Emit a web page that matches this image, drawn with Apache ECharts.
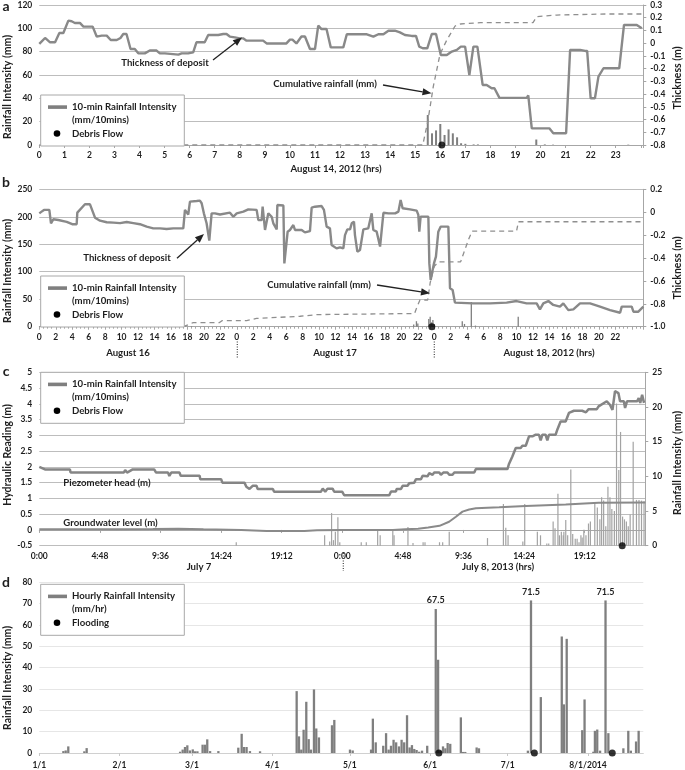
<!DOCTYPE html>
<html><head><meta charset="utf-8">
<script src="https://cdn.jsdelivr.net/npm/echarts@6/dist/echarts.min.js"></script>
<style>html,body{margin:0;padding:0;background:#fff}#c{width:685px;height:770px}</style>
</head><body><div id="c"></div>
<script>
// ---------- DATA ----------
// Panel a (August 14, 2012; hours)
const aThickness = [[0,-0.006],[0.23,0.041],[0.43,0.007],[0.63,0.007],[0.8,0.08],[0.96,0.08],[1.16,0.177],[1.29,0.172],[1.42,0.159],[1.62,0.159],[1.76,0.13],[2.13,0.13],[2.29,0.052],[2.49,0.059],[2.69,0.059],[2.85,0.025],[3.09,0.025],[3.24,0.041],[3.35,0.072],[3.48,0.072],[3.64,-0.046],[3.81,-0.046],[3.95,-0.08],[4.21,-0.08],[4.41,-0.058],[4.68,-0.058],[4.81,-0.08],[5.01,-0.08],[5.08,-0.09],[5.55,-0.09],[5.68,-0.08],[5.94,-0.08],[6.0,-0.072],[6.14,-0.072],[6.27,0.007],[6.6,0.007],[6.74,0.064],[7.14,0.064],[7.34,0.072],[7.47,0.072],[7.6,0.052],[7.8,0.046],[8.0,0.038],[8.13,0.038],[8.27,0.02],[8.93,0.02],[9.07,-0.002],[9.86,-0.002],[10.0,0.028],[10.1,0.028],[10.26,-0.002],[10.46,0.053],[10.6,0.053],[10.8,-0.046],[11.0,-0.046],[11.13,0.138],[11.26,0.111],[11.46,0.111],[11.63,-0.033],[12.13,-0.033],[12.27,0.07],[13.07,0.07],[13.33,0.051],[13.53,0.07],[13.73,0.07],[13.93,0.098],[14.19,0.098],[14.39,0.085],[14.59,0.064],[14.86,0.057],[15.03,0.057],[15.16,-0.027],[15.3,-0.04],[15.48,-0.04],[15.66,0.072],[15.83,0.072],[16.02,-0.093],[16.26,-0.093],[16.46,-0.066],[16.66,-0.053],[16.82,-0.027],[16.99,-0.027],[17.16,-0.25],[17.32,-0.027],[17.48,-0.027],[17.69,-0.328],[17.85,-0.328],[18.05,-0.354],[18.16,-0.354],[18.36,-0.43],[19.45,-0.43],[19.51,-0.41],[19.65,-0.669],[20.35,-0.669],[20.51,-0.708],[21.02,-0.708],[21.18,-0.053],[21.58,-0.053],[21.78,-0.061],[21.86,-0.061],[22.0,-0.433],[22.17,-0.433],[22.31,-0.263],[22.51,-0.197],[23.14,-0.197],[23.33,0.143],[23.84,0.143],[24.04,0.117]];
const aCumulative = [[0,0],[15.3,0],[15.5,20],[15.72,50],[15.99,78],[16.26,90],[16.59,102],[16.8,103.7],[17.6,104.9],[19.7,104.9],[19.85,110],[20.65,111.4],[22.6,112.3],[24.04,112.3]];
const aRain = [[15.5,25.7],[15.67,10],[15.83,12.5],[16.0,18],[16.17,8.6],[16.33,13.4],[16.5,10],[16.67,6.6],[16.83,1.5],[17.0,1.0],[17.33,0.5],[17.5,0.5],[19.83,4.7],[20.17,0.5],[20.5,0.3],[23.5,0.3]];
const aDebris = [[16.06,0]];

// Panel b (August 16-18, 2012; hours from Aug 16 0:00)
const bThickness = [[0,-0.01],[0.28,0.005],[0.57,0.02],[1.22,0.02],[1.42,-0.097],[1.7,-0.062],[2.31,-0.068],[3.33,-0.085],[4.0,-0.105],[4.54,-0.105],[4.62,-0.004],[5.55,0.069],[6.16,0.069],[6.77,-0.048],[7.38,-0.074],[8.19,-0.088],[9.0,-0.091],[9.81,-0.095],[10.62,-0.086],[11.43,-0.095],[12.23,-0.105],[13.05,-0.126],[13.85,-0.141],[14.67,-0.141],[15.47,-0.147],[16.28,-0.141],[17.5,-0.141],[17.7,0.02],[18.1,-0.02],[18.31,0.092],[19.12,0.098],[19.52,0.101],[19.73,0.078],[20.0,-0.01],[20.33,-0.097],[20.66,-0.248],[20.94,-0.01],[21.35,-0.01],[21.96,-0.02],[23.17,-0.004],[23.58,-0.04],[23.99,-0.01],[24.8,0.005],[25.4,0.025],[26.41,0.02],[26.62,-0.069],[27.02,-0.069],[27.14,0.048],[27.43,-0.155],[27.63,-0.155],[27.83,-0.01],[28.24,-0.04],[28.44,-0.097],[28.85,-0.15],[28.93,0.063],[29.66,0.058],[29.78,-0.447],[29.98,-0.447],[30.18,-0.17],[30.46,-0.155],[30.87,-0.112],[31.07,-0.155],[31.88,-0.155],[32.28,-0.176],[32.89,-0.165],[33.1,0.04],[33.5,0.048],[34.31,0.054],[34.59,0.02],[34.92,-0.126],[35.32,-0.141],[35.52,-0.286],[36.13,-0.316],[36.54,-0.307],[36.95,-0.316],[37.15,-0.2],[37.43,-0.15],[37.76,-0.15],[37.97,-0.097],[38.24,-0.083],[38.36,-0.2],[38.65,-0.345],[38.97,-0.33],[39.38,-0.15],[39.98,-0.141],[40.39,-0.01],[40.59,-0.155],[41.0,-0.17],[41.41,-0.3],[41.6,-0.316],[41.82,-0.005],[42.43,-0.01],[43.24,-0.01],[43.64,0.005],[43.91,0.107],[44.15,0.034],[45.05,0.025],[45.86,0.014],[46.06,-0.024],[46.18,-0.17],[46.34,-0.039],[47.28,-0.039],[47.4,-0.447],[47.56,-0.592],[47.8,-0.592],[47.96,-0.447],[48.2,-0.388],[48.49,-0.17],[48.77,-0.126],[49.71,-0.126],[49.91,-0.665],[50.23,-0.68],[50.51,-0.79],[52.74,-0.796],[54.77,-0.796],[56.79,-0.79],[58.0,-0.776],[59.22,-0.796],[60.44,-0.796],[60.84,-0.849],[61.25,-0.796],[61.86,-0.776],[62.46,-0.81],[63.27,-0.825],[63.68,-0.796],[64.29,-0.855],[64.9,-0.849],[65.71,-0.796],[66.93,-0.796],[68.14,-0.825],[69.36,-0.855],[70.58,-0.878],[70.78,-0.825],[71.99,-0.825],[72.2,-0.869],[72.8,-0.869],[73.41,-0.825]];
const bCumulative = [[0,0],[17.5,0],[17.7,3],[18.7,7.5],[21.9,7.5],[22.2,11],[25.2,11],[26.4,15],[31.7,19],[33.7,22],[45.6,24],[45.9,36],[46.26,48.6],[47.2,48.6],[47.5,80],[48.0,110],[48.5,118],[51.2,118],[51.6,135],[52.2,160],[52.6,174],[58.0,174],[58.22,191],[73.4,191]];
const bRain = [[17.7,2],[18.5,1],[20,0.5],[22.5,1],[24.5,0.5],[26.5,1],[30,0.5],[33.0,1],[38,0.5],[45.5,4],[45.83,10],[46.0,6],[47.33,14],[47.5,18],[47.67,8],[47.83,12],[48.0,5],[51.4,10],[51.67,5],[52.5,45],[53.0,2],[58.2,18],[62,0.5],[68,0.5]];
const bDebris = [[47.7,0]];

// Panel c (July 7-8, 2013; hours from July 7 0:00)
const cPiezometer = [[0,2.0],[0.45,1.92],[2.42,1.92],[2.48,1.82],[6.7,1.82],[6.8,1.9],[6.95,1.82],[7.4,1.92],[9.1,1.92],[9.25,1.82],[10.2,1.82],[10.3,1.71],[10.45,1.82],[11.1,1.82],[11.2,1.72],[12.7,1.72],[12.75,1.61],[14.4,1.61],[14.5,1.5],[16.25,1.5],[16.4,1.37],[16.65,1.3],[16.9,1.4],[17.2,1.4],[17.3,1.3],[18.5,1.3],[18.6,1.21],[22.3,1.21],[22.45,1.31],[22.65,1.21],[22.83,1.31],[23.23,1.31],[23.36,1.21],[24.0,1.21],[24.15,1.1],[27.72,1.1],[27.86,1.22],[28.25,1.22],[28.3,1.3],[28.65,1.3],[28.78,1.4],[29.17,1.4],[29.3,1.48],[29.7,1.5],[29.83,1.61],[30.23,1.61],[30.36,1.72],[30.75,1.7],[30.89,1.8],[31.15,1.75],[31.28,1.82],[31.68,1.82],[31.81,1.75],[32.0,1.82],[32.33,1.82],[32.47,1.75],[32.73,1.75],[32.87,1.82],[34.45,1.82],[34.58,1.93],[37.08,1.93],[37.21,2.1],[37.47,2.33],[37.74,2.6],[38.13,2.6],[38.26,2.67],[38.53,2.67],[38.79,2.97],[39.06,2.97],[39.32,3.02],[39.58,3.02],[39.71,2.84],[39.85,3.02],[40.1,3.02],[40.24,2.84],[40.37,3.02],[40.9,3.02],[41.03,3.18],[41.29,3.44],[41.69,3.44],[41.95,3.71],[42.35,3.78],[42.61,3.78],[42.74,3.73],[43.0,3.78],[43.3,3.73],[43.5,3.83],[44.16,3.83],[44.3,3.92],[44.95,4.08],[45.2,3.97],[45.4,3.81],[45.6,4.4],[45.87,4.34],[46.0,4.08],[46.3,4.08],[46.4,3.87],[46.55,4.08],[47.35,4.08],[47.48,4.18],[47.6,4.03],[47.75,4.29],[47.9,4.03]];
const cGroundwater = [[0,0.02],[6,0.02],[9,0.03],[11,0.04],[13,0.02],[16,0.0],[18,-0.03],[21,-0.03],[22,-0.01],[24,0.0],[28,0.0],[29,0.02],[30,0.04],[30.8,0.08],[31.7,0.13],[32.46,0.26],[33.0,0.42],[33.52,0.58],[34.05,0.65],[34.58,0.69],[36.42,0.72],[38.53,0.76],[41.7,0.81],[44.3,0.86],[48,0.87]];
const cRain = [[15.6,0.5],[22.6,1.5],[23.0,0.6],[23.15,4.7],[23.3,0.8],[23.45,2.0],[23.65,4.1],[23.8,0.5],[25.5,0.5],[25.9,0.5],[26.8,2.2],[27.0,1.5],[28.0,2.2],[28.1,1.5],[29.2,2.7],[29.6,0.4],[30.4,0.5],[30.55,0.5],[31.7,0.5],[31.95,0.5],[32.47,2.0],[35.5,1.1],[36.76,6.0],[36.95,2.6],[37.13,1.5],[38.3,0.6],[38.45,6.0],[39.45,2.0],[39.7,1.5],[40.2,0.3],[40.35,0.3],[40.7,3.5],[40.85,2.5],[41.08,7.5],[41.2,1.5],[41.35,2.0],[41.5,1.5],[41.55,2.0],[41.7,3.7],[41.85,1.5],[42.1,11.0],[42.25,1.7],[42.45,1.0],[42.6,1.0],[42.75,0.5],[42.9,1.5],[43.0,1.2],[43.13,2.3],[43.3,1.5],[43.5,3.2],[43.65,3.5],[44.0,6.3],[44.2,5.5],[44.4,3.8],[44.54,7.0],[44.7,6.5],[44.87,2.8],[45.04,8.5],[45.2,7.0],[45.35,5.3],[45.55,5.0],[45.72,20.5],[45.9,10.9],[46.04,16.4],[46.2,4.2],[46.35,3.8],[46.5,3.5],[46.65,2.8],[46.8,4.5],[47.04,15.0],[47.3,6.6],[47.5,6.6],[47.7,6.5],[47.9,6.4]];
const cDebris = [[46.17,0]];

// Panel d (2014; days from Jan 1)
const dRain = [[9.3,0.9],[10.2,1.2],[11.2,3.1],[17.4,0.8],[18.3,2.3],[54.4,0.6],[55.4,1.6],[56.3,2.8],[57.2,3.6],[58.2,1.2],[59.3,1.7],[60.2,0.8],[61.1,0.8],[63.1,3.9],[64.0,3.9],[64.9,6.4],[66.0,0.9],[69.2,0.9],[76.9,2.5],[78.2,9.0],[79.1,2.8],[80.1,2.8],[81.4,0.9],[85.3,0.8],[99.45,29.0],[100.35,7.8],[101.24,1.6],[102.14,10.9],[103.17,24.0],[104.1,6.5],[104.98,1.6],[106.14,29.8],[107.03,11.5],[108.06,7.3],[113.1,13.0],[114.0,15.5],[120.05,1.6],[121.1,1.2],[128.2,1.6],[128.9,16.1],[130.0,5.0],[132.9,3.4],[134.0,9.3],[135.0,1.6],[135.9,3.4],[136.9,6.2],[137.9,5.0],[139.0,3.1],[140.0,6.2],[141.0,5.0],[142.1,17.7],[143.1,2.6],[144.0,3.7],[144.9,1.9],[145.8,1.4],[146.8,0.6],[147.9,1.1],[149.9,3.4],[153.2,67.5],[154.1,43.7],[155.0,1.1],[156.0,3.1],[156.9,2.2],[157.8,4.7],[158.8,4.3],[162.9,16.7],[163.7,0.5],[164.6,0.5],[169.0,2.6],[169.9,2.2],[188.8,1.1],[190.0,71.5],[193.8,26.2],[201.9,54.6],[202.7,22.8],[203.8,53.5],[209.8,10.7],[210.7,25.1],[214.1,0.6],[214.7,10.4],[215.6,11.0],[216.7,1.1],[218.8,71.5],[219.9,9.3],[225.7,2.2],[227.6,10.4],[228.6,1.1],[230.6,5.4],[231.6,10.4]];
const dLabelled = [153.2, 190.0, 218.8];
const dFlooding = [[154.4,0],[191.3,0],[221.4,0]];
const dMonthDays = [0,31,59,90,120,151,181,212];
const dMonthLabels = ['1/1','2/1','3/1','4/1','5/1','6/1','7/1','8/1/2014'];

// ---------- STYLE ----------
const FF = 'Lato, "Open Sans", sans-serif';
const TXT = '#1e1e1e';
const BAR = '#7f7f7f';
const LINE = '#898989';
const GRIDC = '#bdbdbd';
const AXC = '#a6a6a6';
const lbl = {fontFamily: FF, fontSize: 8.5, fontWeight: 'bold', color: TXT};

function near(v, r){ return Math.abs(v - r) < 1e-6; }
function xAx(grid, extra){
  return Object.assign({gridIndex: grid, type: 'value', splitLine: {show: false},
    axisLine: {show: true, lineStyle: {color: AXC, width: 1}},
    axisTick: {show: true, length: 3, lineStyle: {color: AXC}},
    axisLabel: Object.assign({margin: 6}, lbl)}, extra);
}
function yAx(grid, min, max, interval, pos, fmt, split, splitColor){
  return {gridIndex: grid, type: 'value', min, max, interval, position: pos,
    splitLine: {show: split, lineStyle: {color: splitColor || GRIDC, width: 1.2}},
    axisLine: {show: pos === 'right', lineStyle: {color: AXC}},
    axisTick: {show: pos === 'right', length: 3, lineStyle: {color: AXC}},
    axisLabel: Object.assign({margin: 7, formatter: fmt}, lbl)};
}
const f1 = v => { const r = Math.round(v * 10) / 10; return r === 0 ? '0' : String(r); };
const f1d = v => { const r = Math.round(v * 10) / 10; return r === 0 ? '0' : r.toFixed(1); };
const fInt = v => String(Math.round(v));

const xAxes = [
  xAx(0, {min: 0, max: 24.1, interval: 1,
    axisLabel: Object.assign({margin: 6, formatter: v => (near(v, Math.round(v)) && v < 23.5) ? String(Math.round(v)) : ''}, lbl)}),
  xAx(1, {min: 0, max: 73.4, interval: 2,
    minorTick: {show: true, splitNumber: 4, length: 2, lineStyle: {color: AXC}},
    axisLabel: Object.assign({margin: 6, formatter: v => { const r = Math.round(v); if (!near(v, r) || r % 2 || r >= 72) return ''; return String(r % 24); }}, lbl)}),
  xAx(2, {min: 0, max: 48, interval: 4.8,
    axisLabel: Object.assign({margin: 6, formatter: v => { if (v > 47.5) return ''; const m = Math.round(v * 60) % 1440; const h = Math.floor(m / 60), mm = m % 60; return h + ':' + (mm < 10 ? '0' : '') + mm; }}, lbl)}),
  xAx(3, {min: 0, max: 233.4,
    axisLine: {show: true, lineStyle: {color: '#d0d0d0', width: 1}},
    axisTick: {show: true, length: 3, customValues: dMonthDays, lineStyle: {color: '#c8c8c8'}},
    axisLabel: Object.assign({margin: 8, customValues: dMonthDays, formatter: v => { const i = dMonthDays.indexOf(Math.round(v)); return i >= 0 ? dMonthLabels[i] : ''; }}, lbl)})
];
const yAxes = [
  yAx(0, 0, 120, 20, 'left', fInt, true),
  yAx(0, -0.8, 0.3, 0.1, 'right', f1, false),
  yAx(1, 0, 250, 50, 'left', fInt, true),
  yAx(1, -1.0, 0.2, 0.2, 'right', f1d, false),
  yAx(2, -0.5, 5, 0.5, 'left', f1, true),
  yAx(2, 0, 25, 5, 'right', fInt, false),
  yAx(3, 0, 80, 10, 'left', fInt, true, '#e6e6e6')
];

function bars(xi, yi, data, w, color){
  return {type: 'bar', xAxisIndex: xi, yAxisIndex: yi, data, barWidth: w, itemStyle: {color: color || BAR}, z: 2, animation: false};
}
function line(xi, yi, data, w, color, dash){
  return {type: 'line', xAxisIndex: xi, yAxisIndex: yi, data, showSymbol: false, symbol: 'none',
    lineStyle: {width: w, color: color || LINE, type: dash ? [5, 4] : 'solid'}, z: 3, animation: false};
}
function dots(xi, yi, data){
  return {type: 'scatter', xAxisIndex: xi, yAxisIndex: yi, data, symbolSize: 7, itemStyle: {color: '#000'}, clip: false, z: 6, animation: false};
}

const dRainItems = dRain.map(p => dLabelled.indexOf(p[0]) >= 0
  ? {value: p, label: {show: true, position: 'top', distance: 4, formatter: '{@[1]}', fontFamily: FF, fontSize: 9, fontWeight: 'bold', color: TXT}}
  : {value: p});

const series = [
  bars(0, 0, aRain, 2),
  line(0, 0, aCumulative, 1.3, '#8f8f8f', true),
  line(0, 1, aThickness, 2.4),
  dots(0, 0, aDebris),
  bars(1, 2, bRain, 1.3),
  line(1, 2, bCumulative, 1.3, '#8f8f8f', true),
  line(1, 3, bThickness, 2.4),
  dots(1, 2, bDebris),
  bars(2, 5, cRain, 1.2, '#a3a3a3'),
  line(2, 4, cPiezometer, 2.5, '#858585'),
  line(2, 4, cGroundwater, 2, '#8a8a8a'),
  dots(2, 5, cDebris),
  bars(3, 6, dRainItems, 2.3),
  dots(3, 6, dFlooding)
];

// ---------- GRAPHIC (legends, annotations, titles) ----------
function T(text, x, y, opt){
  opt = opt || {};
  return {type: 'text', x, y, rotation: opt.rot || 0, z: 60,
    style: {text, fill: TXT, font: (opt.weight || 'bold') + ' ' + (opt.size || 9.6) + 'px ' + FF,
      textAlign: opt.align || 'center', textVerticalAlign: 'middle', align: opt.align || 'center', verticalAlign: 'middle'}};
}
function legendBox(top, t1, t2, t3){
  return [
    {type: 'rect', z: 50, shape: {x: 40.7, y: top, width: 143.6, height: 51}, style: {fill: '#fff', stroke: '#a8a8a8', lineWidth: 1}},
    {type: 'rect', z: 55, shape: {x: 48, y: top + 10.3, width: 19, height: 3.6}, style: {fill: BAR}},
    T(t1, 72, top + 12, {align: 'left'}),
    T(t2, 72, top + 25, {align: 'left'}),
    {type: 'circle', z: 55, shape: {cx: 57, cy: top + 38.5, r: 3.3}, style: {fill: '#000'}},
    T(t3, 72, top + 38.5, {align: 'left'})
  ];
}
function arrow(x1, y1, x2, y2){
  const a = Math.atan2(y2 - y1, x2 - x1), L = 9, W = 3.6;
  const bx = x2 - L * Math.cos(a), by = y2 - L * Math.sin(a);
  const px = -Math.sin(a) * W, py = Math.cos(a) * W;
  return [
    {type: 'line', z: 60, shape: {x1, y1, x2: bx, y2: by}, style: {stroke: '#222', lineWidth: 1.3}},
    {type: 'polygon', z: 60, shape: {points: [[x2, y2], [bx + px, by + py], [bx - px, by - py]]}, style: {fill: '#222'}}
  ];
}
function dotted(x, y1, y2){
  return {type: 'line', z: 60, shape: {x1: x, y1, x2: x, y2}, style: {stroke: '#444', lineWidth: 1.2, lineDash: [1, 1.5]}};
}
const R = Math.PI / 2;
const graphics = [].concat(
  legendBox(95, '10-min Rainfall Intensity', '(mm/10mins)', 'Debris Flow'),
  legendBox(276, '10-min Rainfall Intensity', '(mm/10mins)', 'Debris Flow'),
  legendBox(372.3, '10-min Rainfall Intensity', '(mm/10mins)', 'Debris Flow'),
  legendBox(584.3, 'Hourly Rainfall Intensity', '(mm/hr)', 'Flooding'),
  [T('Thickness of deposit', 165, 63.3), T('Cumulative rainfall (mm)', 325, 83.5)],
  arrow(213, 60, 242, 37.5), arrow(383, 85, 431.5, 93.3),
  [T('Thickness of deposit', 127, 257.7), T('Cumulative rainfall (mm)', 319, 285)],
  arrow(177, 258.3, 204, 234), arrow(377, 285, 430, 293.3),
  [T('Piezometer head (m)', 63.3, 482.7, {align: 'left'}), T('Groundwater level (m)', 63.3, 522.7, {align: 'left'})],
  [T('August 14, 2012 (hrs)', 336, 169),
   T('August 16', 128, 353), T('August 17', 335, 353), T('August 18, 2012 (hrs)', 549, 353),
   T('July 7', 199, 566.7), T('July 8, 2013 (hrs)', 498, 566.7)],
  [dotted(237.3, 339, 358), dotted(434.3, 339, 358), dotted(343.3, 553, 571)],
  [T('Rainfall Intensity (mm)', 8, 87, {rot: R, size: 10.5}), T('Thickness (m)', 678, 78, {rot: R, size: 10.5}),
   T('Rainfall Intensity (mm)', 8, 271, {rot: R, size: 10.5}), T('Thickness (m)', 678, 268, {rot: R, size: 10.5}),
   T('Hydraulic Reading (m)', 8, 455, {rot: R, size: 10.5}), T('Rainfall Intensity (mm)', 678, 463, {rot: R, size: 10.5}),
   T('Rainfall Intensity (mm)', 8, 678, {rot: R, size: 10.5})],
  [T('a', 6, 6, {size: 14}), T('b', 6, 182, {size: 14}), T('c', 6, 371, {size: 14}), T('d', 6, 582, {size: 14})]
);

const chart = echarts.init(document.getElementById('c'), null, {renderer: 'canvas'});
chart.setOption({
  animation: false,
  backgroundColor: '#fff',
  grid: [
    {left: 39.3, top: 5, width: 604, height: 140},
    {left: 39.3, top: 189.3, width: 604, height: 137.4},
    {left: 39.3, top: 372.3, width: 606, height: 173.4},
    {left: 39.3, top: 582.3, width: 604, height: 172}
  ],
  xAxis: xAxes,
  yAxis: yAxes,
  series,
  graphic: {elements: graphics}
});
</script></body></html>
